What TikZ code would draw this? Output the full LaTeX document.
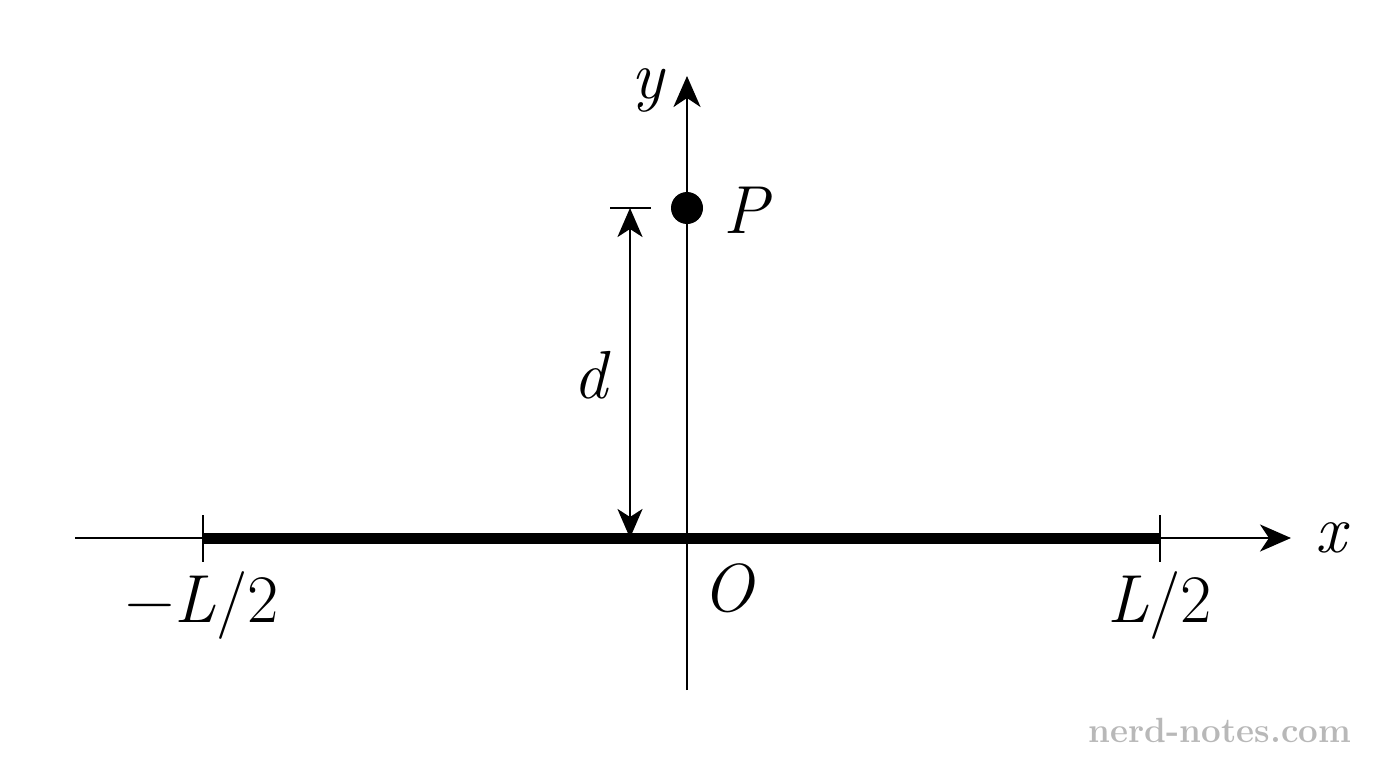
\documentclass[tikz,border=0pt]{standalone}
\usepackage{fontspec}
\usetikzlibrary{arrows.meta}
\begin{document}
\begin{tikzpicture}[x=1pt,y=-1pt,
  axis/.style={line width=2.8pt},
  tip/.style={-{Stealth[length=31pt,width=27pt,inset=9pt]}},
  twotip/.style={{Stealth[length=29pt,width=25pt,inset=8pt]}-{Stealth[length=29pt,width=25pt,inset=8pt]}},
  rod/.style={line width=11pt},
  lab/.style={font=\fontsize{68}{76}\selectfont, inner sep=0pt},
  wm/.style={font=\fontsize{35}{40}\selectfont\bfseries, text=black!28, inner sep=0pt}]
\useasboundingbox (0,0) rectangle (1376,768);
% coordinates
\coordinate (xs) at (75,538);
\coordinate (xe) at (1291,538);
\coordinate (ys) at (687,690);
\coordinate (ye) at (687,76);
\coordinate (A) at (203,538);
\coordinate (B) at (1160,538);
\coordinate (At) at (203,515);
\coordinate (Ab) at (203,562);
\coordinate (Bt) at (1160,515);
\coordinate (Bb) at (1160,562);
\coordinate (c1) at (610,208);
\coordinate (c2) at (651,208);
\coordinate (dt) at (630,208);
\coordinate (db) at (630,538);
% axes
\draw[axis,tip] (xs) -- (xe);
\draw[axis,tip] (ys) -- (ye);
% rod
\draw[rod] (A) -- (B);
\draw[axis] (At) -- (Ab);
\draw[axis] (Bt) -- (Bb);
% point P
\fill (687,208) circle (16pt) coordinate (Pp);
% dimension
\draw[axis] (c1) -- (c2);
\draw[axis,twotip] (dt) -- (db);
% labels
\node[lab] (ylab) at (648,90) {\itshape y};
\node[lab] (xlab) at (1331,538) {\itshape x};
\node[lab] (Plab) at (746,210) {\itshape P};
\node[lab] (dlab) at (590,375) {\itshape d};
\node[lab] (Olab) at (728,588) {\itshape O};
\node[lab] (Alab) at (202,605) {−\textit{L}/2};
\node[lab] (Blab) at (1160,605) {\textit{L}/2};
\node[wm] (wm) at (1220,730) {nerd-notes.com};
\end{tikzpicture}
\end{document}
